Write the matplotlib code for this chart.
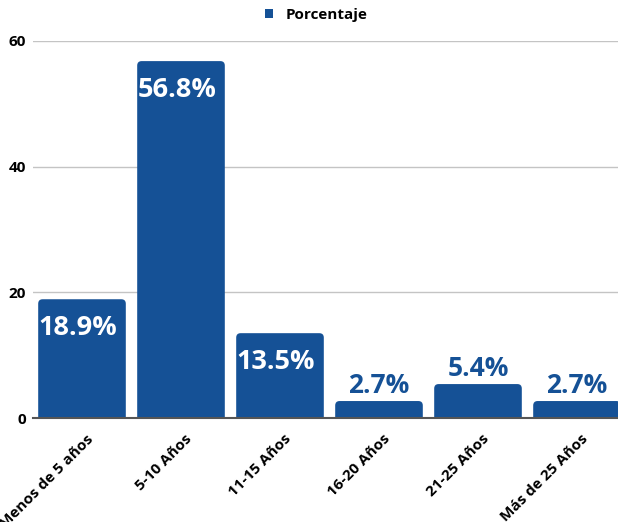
import numpy as np
import matplotlib.pyplot as plt
import matplotlib.transforms as mtransforms
from matplotlib.patches import FancyBboxPatch

plt.rcParams["font.family"] = ["Open Sans", "DejaVu Sans"]
plt.rcParams["font.weight"] = "bold"

categories = ["Menos de 5 años", "5-10 Años", "11-15 Años", "16-20 Años", "21-25 Años", "Más de 25 Años"]
values = [18.9, 56.8, 13.5, 2.7, 5.4, 2.7]
labels = ["18.9%", "56.8%", "13.5%", "2.7%", "5.4%", "2.7%"]
yticks = [0, 20, 40, 60]

blue = "#155196"

W, H = 618, 522
fig = plt.figure(figsize = (W / 100, H / 100), dpi = 100)
# slot is 99 px wide, first bar centre at 82 px
ax = fig.add_axes([32.5 / W, 104 / H, 594 / W, 377 / H])
ax.set_xlim(-0.5, 5.5)
ax.set_ylim(0, 60)

xs = np.arange(len(categories))
bars = ax.bar(xs, values, width = 0.885, color = blue, label = "Porcentaje", zorder = 2)

# swap plain rectangles for rounded ones
px_x = 99.0
px_y = 377 / 60
for b in bars:
    x0, w, h = b.get_x(), b.get_width(), b.get_height()
    b.set_visible(False)
    p = FancyBboxPatch(
        (x0, -2), w, h + 2,
        boxstyle = "round,pad=0,rounding_size=0.045",
        mutation_aspect = px_x / px_y,
        facecolor = blue, edgecolor = "none", zorder = 2,
    )
    ax.add_patch(p)

for x, v, t in zip(xs, values, labels):
    if v > 10:
        ax.annotate(t, (x, v), xytext = (-4, -26), textcoords = "offset pixels",
                    ha = "center", va = "center_baseline", color = "white", fontsize = 19.5,
                    fontweight = "bold", zorder = 3)
    else:
        ax.annotate(t, (x, v), xytext = (0, 19), textcoords = "offset pixels",
                    ha = "center", va = "center_baseline", color = blue, fontsize = 19,
                    fontweight = "bold", zorder = 3)

ax.set_yticks(yticks)
ax.set_yticklabels([str(t) for t in yticks], fontsize = 11, fontweight = "bold")
ax.grid(axis = "y", color = "#c4c4c4", linewidth = 1, zorder = 0)
ax.set_axisbelow(True)
ax.tick_params(axis = "both", length = 0)
ax.tick_params(axis = "y", pad = 4.5)

ax.set_xticks(xs)
ax.set_xticklabels(categories, rotation = 45, ha = "right", va = "top", rotation_mode = "anchor",
                   fontsize = 11, fontweight = "bold")
ax.tick_params(axis = "x", pad = 10)
shift = mtransforms.ScaledTranslation(4 / 100, 0, fig.dpi_scale_trans)
for lbl in ax.get_xticklabels():
    lbl.set_transform(lbl.get_transform() + shift)

for s in ["top", "right", "left"]:
    ax.spines[s].set_visible(False)
ax.spines["bottom"].set_color("#555555")
ax.spines["bottom"].set_linewidth(1.5)
ax.spines["bottom"].set_zorder(4)

leg = fig.legend(
    handles = [bars[0]], labels = ["Porcentaje"],
    loc = "center", bbox_to_anchor = (316 / W, 1 - 15 / H),
    frameon = False, handlelength = 0.55, handleheight = 0.55, handletextpad = 0.8,
    prop = {"size": 11, "weight": "bold"},
)
for h in leg.legend_handles:
    h.set_visible(True)

fig.savefig("out.png", dpi = 100)
